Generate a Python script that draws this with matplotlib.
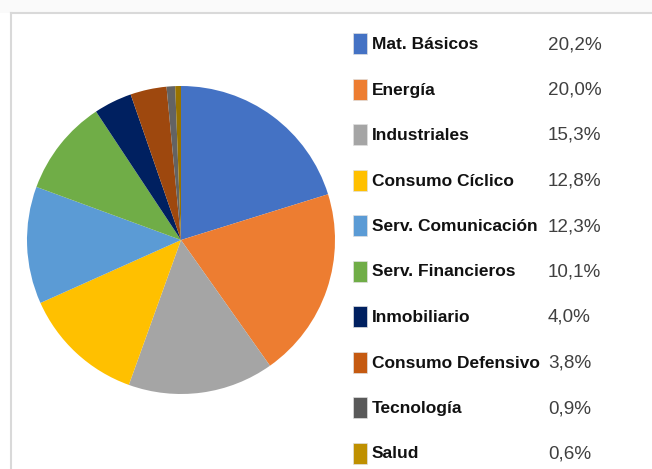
import matplotlib.pyplot as plt
from matplotlib.patches import Rectangle

sectors = ['Mat. Básicos', 'Energía', 'Industriales', 'Consumo Cíclico',
           'Serv. Comunicación', 'Serv. Financieros', 'Inmobiliario',
           'Consumo Defensivo', 'Tecnología', 'Salud']
weights = [20.2, 20.0, 15.3, 12.8, 12.3, 10.1, 4.0, 3.8, 0.9, 0.6]
weight_labels = ['20,2%', '20,0%', '15,3%', '12,8%', '12,3%', '10,1%',
                 '4,0%', '3,8%', '0,9%', '0,6%']

pie_colors = ['#4472C4', '#ED7D31', '#A5A5A5', '#FFC000', '#5B9BD5',
              '#70AD47', '#002060', '#9E480E', '#636363', '#997300']
legend_colors = ['#4472C4', '#ED7D31', '#A5A5A5', '#FFC000', '#5B9BD5',
                 '#70AD47', '#002060', '#C55A11', '#595959', '#BF9000']

plt.rcParams['font.family'] = ['Liberation Sans', 'DejaVu Sans']

W, H = 652, 469
fig = plt.figure(figsize=(W / 100, H / 100), dpi=100)

# background frame (pixel coordinates)
bg = fig.add_axes([0, 0, 1, 1])
bg.set_xlim(0, W)
bg.set_ylim(H, 0)
bg.axis('off')
bg.add_patch(Rectangle((0, 0), W, 13, facecolor='#fafafa', edgecolor='none'))
bg.plot([11, W], [13, 13], color='#d9d9d9', lw=1.5)
bg.plot([11, 11], [13, H], color='#d9d9d9', lw=1.5)

# pie
cx, cy, r = 181, 240, 154
ax = fig.add_axes([(cx - r) / W, (H - cy - r) / H, 2 * r / W, 2 * r / H])
ax.pie(weights, colors=pie_colors, startangle=90, counterclock=False,
       radius=1, wedgeprops=dict(linewidth=0))
ax.set_xlim(-1, 1)
ax.set_ylim(-1, 1)
ax.set_aspect('equal')
ax.axis('off')

# legend
y0, dy = 44, 45.5
for i, (name, lab) in enumerate(zip(sectors, weight_labels)):
    y = y0 + i * dy
    bg.add_patch(Rectangle((353, y - 10.5), 14, 21, facecolor=legend_colors[i],
                           edgecolor='#e0e0e0', lw=0.5))
    bg.text(372, y + 0.5, name, fontsize=12.5, fontweight='bold', color='#111111',
            va='center', ha='left')
    bg.text(548, y + 0.5, lab, fontsize=13.6, color='#404040', va='center', ha='left')

fig.savefig('out.png', dpi=100)
